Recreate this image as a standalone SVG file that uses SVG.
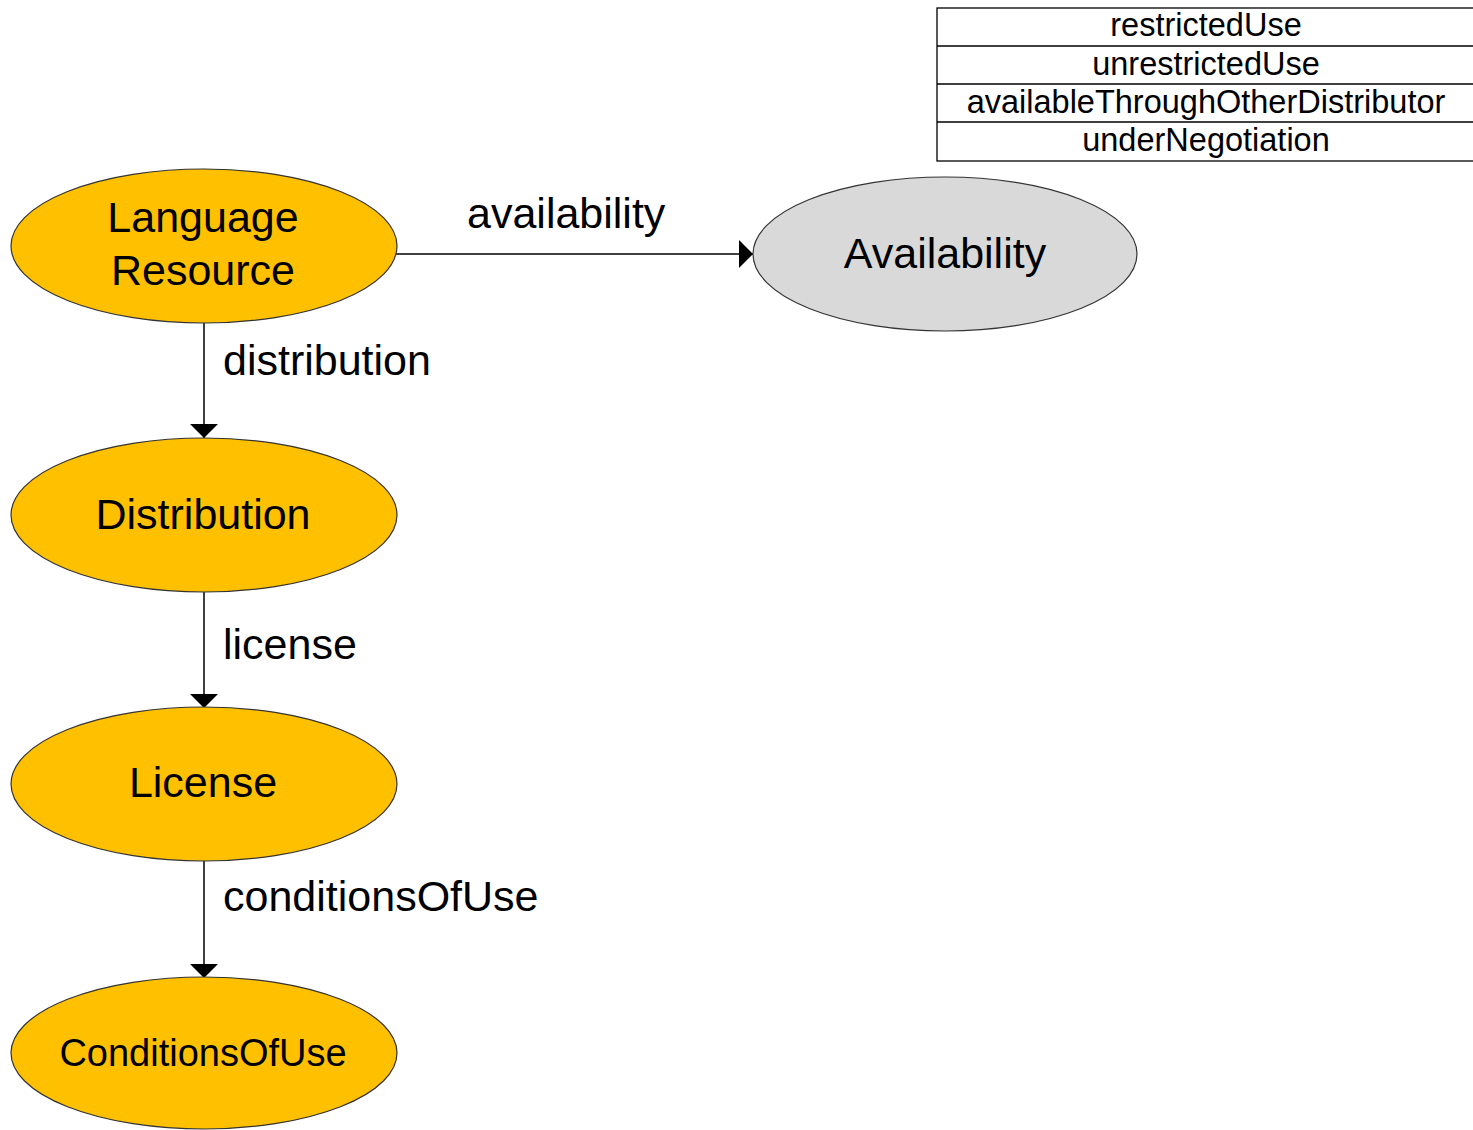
<svg xmlns="http://www.w3.org/2000/svg" width="1473" height="1130" viewBox="0 0 1473 1130">
<style>
  text { font-family: "Liberation Sans", Arial, sans-serif; fill: #000; }
  .node { fill: #ffc000; stroke: #333; stroke-width: 1.2; }
  .gray { fill: #d9d9d9; stroke: #333; stroke-width: 1.2; }
  .nl { font-size: 43px; text-anchor: middle; }
  .el { font-size: 43px; }
  .tbl { font-size: 32.5px; text-anchor: middle; }
  .edge { stroke: #000; stroke-width: 1.5; fill: none; }
</style>
<defs>
  <marker id="arr" markerWidth="14" markerHeight="28" refX="14" refY="14" orient="auto" markerUnits="userSpaceOnUse">
    <path d="M0,0 L14,14 L0,28 Z" fill="#000"/>
  </marker>
</defs>
<rect width="1473" height="1130" fill="#fff"/>
<g id="legend">
  <rect x="937" y="8" width="540" height="153" fill="#fff" stroke="#000" stroke-width="1.3"/>
  <line x1="937" y1="46" x2="1473" y2="46" stroke="#000" stroke-width="1.3"/>
  <line x1="937" y1="84" x2="1473" y2="84" stroke="#000" stroke-width="1.3"/>
  <line x1="937" y1="122" x2="1473" y2="122" stroke="#000" stroke-width="1.3"/>
  <text class="tbl" x="1206" y="36">restrictedUse</text>
  <text class="tbl" x="1206" y="75">unrestrictedUse</text>
  <text class="tbl" x="1206" y="113">availableThroughOtherDistributor</text>
  <text class="tbl" x="1206" y="151">underNegotiation</text>
</g>
<g id="connectors">
  <line class="edge" x1="393" y1="254" x2="753" y2="254" marker-end="url(#arr)"/>
  <line class="edge" x1="204" y1="323" x2="204" y2="438" marker-end="url(#arr)"/>
  <line class="edge" x1="204" y1="592" x2="204" y2="708" marker-end="url(#arr)"/>
  <line class="edge" x1="204" y1="861" x2="204" y2="978" marker-end="url(#arr)"/>
  <text class="el" x="467" y="228">availability</text>
  <text class="el" x="223" y="375">distribution</text>
  <text class="el" x="223" y="659">license</text>
  <text class="el" x="223" y="911">conditionsOfUse</text>
</g>
<g id="language-resource">
  <ellipse class="node" cx="204" cy="246" rx="193" ry="77"/>
  <text class="nl" x="203" y="232">Language</text>
  <text class="nl" x="203" y="285">Resource</text>
</g>
<g id="availability">
  <ellipse class="gray" cx="945" cy="254" rx="192" ry="77"/>
  <text class="nl" x="945" y="268">Availability</text>
</g>
<g id="distribution">
  <ellipse class="node" cx="204" cy="515" rx="193" ry="77"/>
  <text class="nl" x="203" y="529">Distribution</text>
</g>
<g id="license">
  <ellipse class="node" cx="204" cy="784" rx="193" ry="77"/>
  <text class="nl" x="203" y="797">License</text>
</g>
<g id="conditions-of-use">
  <ellipse class="node" cx="204" cy="1053" rx="193" ry="76"/>
  <text class="nl" x="203" y="1066" style="font-size:38px">ConditionsOfUse</text>
</g>
</svg>
